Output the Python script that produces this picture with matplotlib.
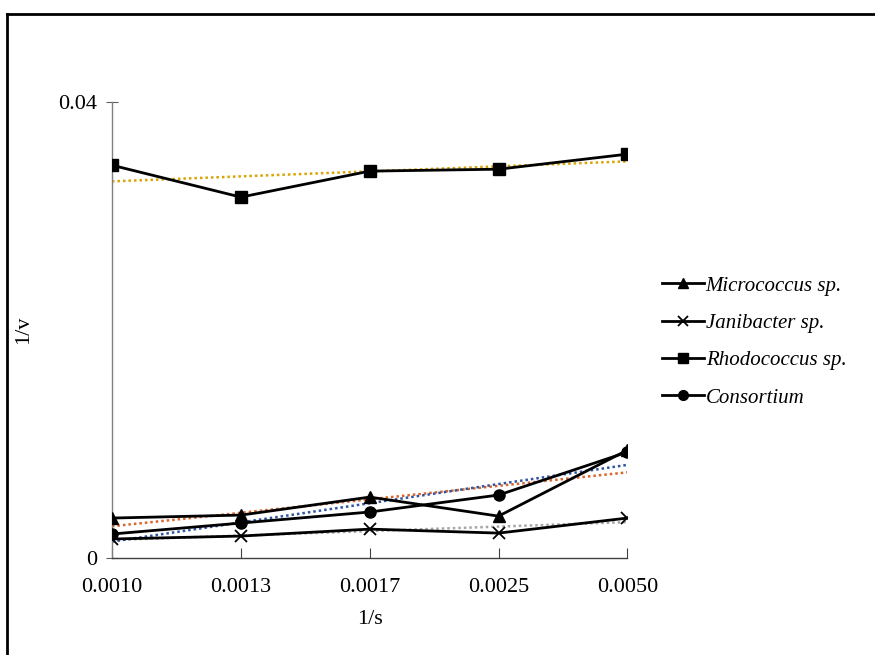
import numpy as np
import matplotlib
matplotlib.use('Agg')
import matplotlib.pyplot as plt
from matplotlib.lines import Line2D

plt.rcParams['font.family'] = ['Liberation Serif', 'DejaVu Serif']

# x categories (1/s) and 1/v values per strain
categories = ['0.0010', '0.0013', '0.0017', '0.0025', '0.0050']
micrococcus = [0.00351, 0.00377, 0.00535, 0.00368, 0.00947]
janibacter = [0.00167, 0.00193, 0.00254, 0.00219, 0.00351]
rhodococcus = [0.03447, 0.03167, 0.03395, 0.03412, 0.03544]
consortium = [0.00211, 0.00307, 0.00404, 0.00553, 0.00930]

names = ['Micrococcus sp.', 'Janibacter sp.', 'Rhodococcus sp.', 'Consortium']
series = [micrococcus, janibacter, rhodococcus, consortium]
markers = ['^', 'x', 's', 'o']
trend_colors = ['#D9652B', '#A5A5A5', '#D9A400', '#2E54A1']

fig = plt.figure(figsize=(8.75, 6.55), dpi=100)
ax = fig.add_axes([0.128, 0.148, 0.589, 0.696])

x = np.arange(len(categories))
handles = []
for vals, name, mk, tc in zip(series, names, markers, trend_colors):
    vals = np.array(vals)
    # linear trendline like excel
    k, b = np.polyfit(x, vals, 1)
    ax.plot(x, k * x + b, linestyle=(0, (1, 1.2)), color=tc, lw=1.8, zorder=2)
    mew = 1.3 if mk == 'x' else 1
    ax.plot(x, vals, color='black', lw=2, marker=mk, ms=8, mew=mew, zorder=3)
    handles.append(Line2D([], [], color='black', lw=2, marker=mk, ms=7, mew=mew))

ax.set_xlim(0, 4)
ax.set_ylim(0, 0.04)
ax.set_xticks(x)
ax.set_xticklabels(categories)
ax.set_yticks([0, 0.04])
ax.set_yticklabels(['0', '0.04'])
ax.tick_params(axis='both', labelsize=16, colors='black')
ax.tick_params(axis='x', direction='in', length=7, color='#404040', pad=14)
ax.tick_params(axis='y', direction='inout', length=9, color='#606060', pad=6)

for s in ['top', 'right']:
    ax.spines[s].set_visible(False)
ax.spines['left'].set_color('#808080')
ax.spines['bottom'].set_color('#404040')
ax.spines['left'].set_linewidth(1)
ax.spines['bottom'].set_linewidth(1)

ax.set_xlabel('1/s', fontsize=16, labelpad=10)
ax.set_ylabel('1/v', fontsize=16)
ax.yaxis.set_label_coords(-0.153, 0.5)

leg = fig.legend(handles, names, loc='center left', bbox_to_anchor=(0.735, 0.478),
                 frameon=False, prop={'style': 'italic', 'size': 15},
                 handlelength=2.0, handletextpad=0.1, labelspacing=0.85)

# outer border of the chart area
fig.add_artist(Line2D([0.008, 0.008], [0.0, 0.979], transform=fig.transFigure,
                      color='black', lw=2))
fig.add_artist(Line2D([0.008, 1.0], [0.979, 0.979], transform=fig.transFigure,
                      color='black', lw=2))

fig.savefig('out.png', dpi=100)
